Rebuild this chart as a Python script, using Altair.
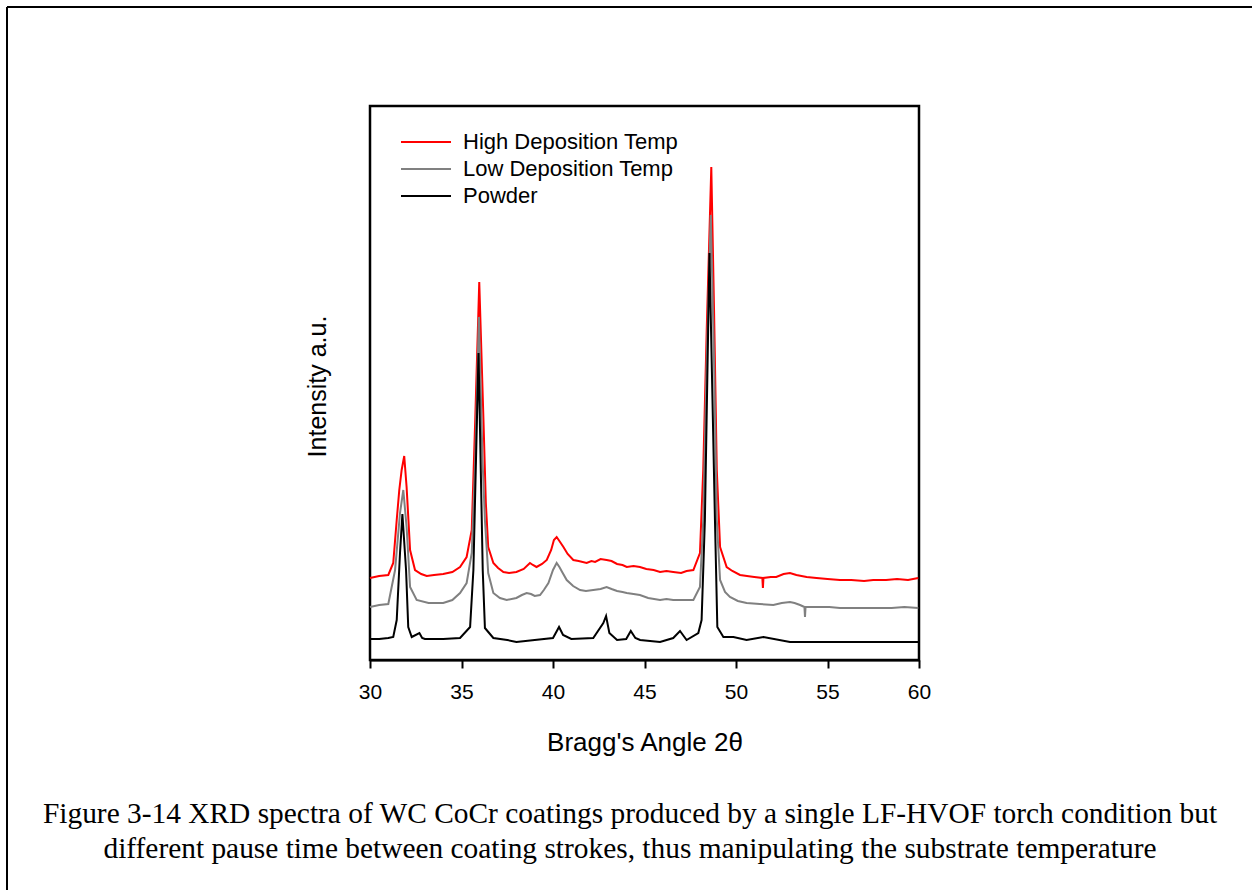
import altair as alt
import pandas as pd

# ---------------- data ----------------
high_x = [30.0, 30.5, 31.0, 31.27, 31.46, 31.6, 31.73, 31.87, 32.0, 32.1, 32.19, 32.46, 32.8, 33.1,
          33.5, 34.0, 34.5, 34.92, 35.28, 35.56, 35.75, 35.97, 36.2, 36.33, 36.46, 36.74, 37.0,
          37.29, 37.6, 38.0, 38.4, 38.74, 38.9, 39.1, 39.4, 39.66, 39.9, 40.05, 40.2, 40.35, 40.57,
          40.8, 41.11, 41.4, 41.84, 42.1, 42.3, 42.6, 42.93, 43.2, 43.5, 43.8, 44.03, 44.4, 44.75,
          45.1, 45.5, 45.85, 46.2, 46.57, 47.0, 47.3, 47.67, 48.03, 48.21, 48.4, 48.65, 48.8, 48.95,
          49.13, 49.49, 49.8, 50.22, 50.6, 51.0, 51.44, 51.47, 51.5, 51.9, 52.2, 52.6, 52.95, 53.3,
          53.86, 54.4, 55.0, 55.68, 56.3, 57.0, 57.5, 58.2, 58.8, 59.4, 59.96]
high_y = [82, 84, 85, 97, 140, 170, 190, 204, 173, 140, 110, 90, 86, 84,
          85, 86, 88, 93, 103, 130, 240, 378, 240, 157, 113, 97, 92,
          88, 87, 88, 91, 97, 95, 93, 96, 100, 110, 120, 123, 119, 113,
          106, 100, 99, 97, 99, 98, 101, 100, 99, 96, 95, 93, 94, 93,
          91, 90, 88, 89, 88, 87, 89, 90, 107, 190, 330, 493, 350, 190,
          113, 93, 89, 85, 84, 83, 82, 72, 82, 83, 83, 86, 87, 85,
          83, 82, 81, 80, 80, 79, 80, 80, 81, 80, 82]

low_x = [30.0, 30.5, 31.0, 31.37, 31.64, 31.82, 32.0, 32.19, 32.55, 33.2, 34.0, 34.5, 34.92, 35.28,
         35.56, 35.75, 35.95, 36.15, 36.28, 36.46, 36.74, 37.1, 37.47, 38.0, 38.3, 38.56, 38.8,
         39.0, 39.29, 39.5, 39.75, 40.0, 40.2, 40.35, 40.5, 40.75, 41.1, 41.48, 41.8, 42.2, 42.6,
         42.93, 43.2, 43.5, 43.8, 44.03, 44.4, 44.75, 45.2, 45.85, 46.2, 46.57, 47.1, 47.67, 48.03,
         48.21, 48.4, 48.62, 48.8, 48.95, 49.13, 49.4, 49.67, 50.1, 50.58, 51.3, 52.04, 52.5,
         52.95, 53.2, 53.5, 53.74, 53.77, 53.8, 54.5, 55.1, 55.68, 56.5, 57.5, 58.5, 59.2, 59.96]
low_y = [53, 55, 56, 90, 147, 170, 133, 73, 60, 57, 57, 60, 67, 77,
         107, 200, 343, 200, 140, 87, 67, 62, 60, 62, 65, 67, 66,
         64, 65, 70, 77, 90, 97, 93, 88, 80, 74, 70, 69, 70, 71,
         73, 71, 69, 68, 67, 66, 65, 62, 60, 61, 60, 60, 60, 73,
         140, 300, 445, 300, 140, 80, 68, 63, 59, 57, 56, 55, 57,
         58, 57, 55, 53, 43, 53, 53, 53, 52, 52, 52, 52, 53, 52]

powder_x = [30.0, 30.5, 31.0, 31.27, 31.46, 31.64, 31.77, 31.97, 32.09, 32.28, 32.7, 32.85, 33.0,
            34.0, 34.92, 35.47, 35.65, 35.93, 36.16, 36.28, 36.74, 37.5, 38.0, 39.0, 40.0, 40.33,
            40.55, 41.0, 42.2, 42.75, 42.9, 43.08, 43.5, 44.0, 44.25, 44.5, 44.76, 45.85, 46.57,
            46.94, 47.3, 47.94, 48.12, 48.3, 48.55, 48.85, 48.98, 49.31, 49.86, 50.58, 51.5,
            52.95, 55.68, 57.5, 59.96]
powder_y = [21, 21, 22, 23, 40, 107, 146, 90, 33, 23, 27, 22, 21,
            21, 22, 33, 90, 307, 90, 32, 22, 20, 18, 20, 22, 33,
            25, 21, 22, 37, 44, 27, 20, 21, 29, 22, 20, 18, 22,
            29, 20, 27, 40, 140, 407, 140, 33, 23, 23, 20, 23,
            18, 18, 18, 18]

series_names = ["High Deposition Temp", "Low Deposition Temp", "Powder"]
series_colors = ["#ff0000", "#808080", "#000000"]
x_ticks = [30, 35, 40, 45, 50, 55, 60]

caption_lines = [
    "Figure 3-14 XRD spectra of WC CoCr coatings produced by a single LF-HVOF torch condition but",
    "different pause time between coating strokes, thus manipulating the substrate temperature",
]

# ---------------- build table ----------------
rows = []
for name, xs, ys in zip(series_names, [high_x, low_x, powder_x], [high_y, low_y, powder_y]):
    for i, (a, b) in enumerate(zip(xs, ys)):
        rows.append({"series": name, "angle": a, "intensity": b, "idx": i})
df = pd.DataFrame(rows)

W, H = 549, 554
PL, PT = 370, 106
TOTAL_W, TOTAL_H = 1252, 890

lines = alt.Chart(df).mark_line(strokeWidth=2).encode(
    x=alt.X("angle:Q",
            scale=alt.Scale(domain=[30, 60], nice=False, zero=False),
            axis=alt.Axis(values=x_ticks, title="Bragg's Angle 2\u03b8", grid=False,
                          tickSize=8, tickWidth=2, tickColor="black",
                          domainColor="black", domainWidth=2,
                          labelFontSize=21, labelFont="Liberation Sans", labelColor="black",
                          labelPadding=13, labelFlush=False,
                          titleFont="Liberation Sans", titleFontSize=26, titleFontWeight="normal",
                          titleColor="black", titlePadding=27)),
    y=alt.Y("intensity:Q",
            scale=alt.Scale(domain=[0, 554], nice=False),
            axis=alt.Axis(title="Intensity a.u.", grid=False, ticks=False, labels=False,
                          domain=False, titleFont="Liberation Sans", titleFontSize=25,
                          titleFontWeight="normal", titleColor="black", titlePadding=40,
                          titleY=H / 2 + 3)),
    color=alt.Color("series:N",
                    scale=alt.Scale(domain=series_names, range=series_colors),
                    title=None,
                    legend=alt.Legend(orient="none", legendX=30, legendY=25,
                                      symbolType="stroke", symbolSize=2500, symbolStrokeWidth=2,
                                      labelFontSize=22, labelFont="Liberation Sans",
                                      labelColor="black", labelOffset=11, labelLimit=400,
                                      clipHeight=22, rowPadding=5, padding=0)),
    order="idx:Q",
)

one = pd.DataFrame({"k": [0]})
border_top = alt.Chart(one).mark_rule(color="black", strokeWidth=2).encode(
    x=alt.value(7 - PL), x2=alt.value(TOTAL_W - PL + 5), y=alt.value(7 - PT))
border_left = alt.Chart(one).mark_rule(color="black", strokeWidth=2).encode(
    x=alt.value(7 - PL), y=alt.value(7 - PT), y2=alt.value(TOTAL_H - PT + 5))

cap1 = alt.Chart(pd.DataFrame({"t": [caption_lines[0]]})).mark_text(
    font="Liberation Serif", fontSize=29.4, color="black", align="center", baseline="alphabetic"
).encode(text="t:N", x=alt.value(630 - PL), y=alt.value(823 - PT))
cap2 = alt.Chart(pd.DataFrame({"t": [caption_lines[1]]})).mark_text(
    font="Liberation Serif", fontSize=29.4, color="black", align="center", baseline="alphabetic"
).encode(text="t:N", x=alt.value(630 - PL), y=alt.value(858 - PT))

chart = alt.layer(lines, border_top, border_left, cap1, cap2).properties(
    width=W, height=H,
    autosize=alt.AutoSizeParams(type="none"),
    padding={"left": PL, "top": PT, "right": TOTAL_W - PL - W, "bottom": TOTAL_H - PT - H},
    background="white",
).configure_view(stroke="black", strokeWidth=2.5)

chart.save("out.html", embed_options={"renderer": "svg", "actions": False})
